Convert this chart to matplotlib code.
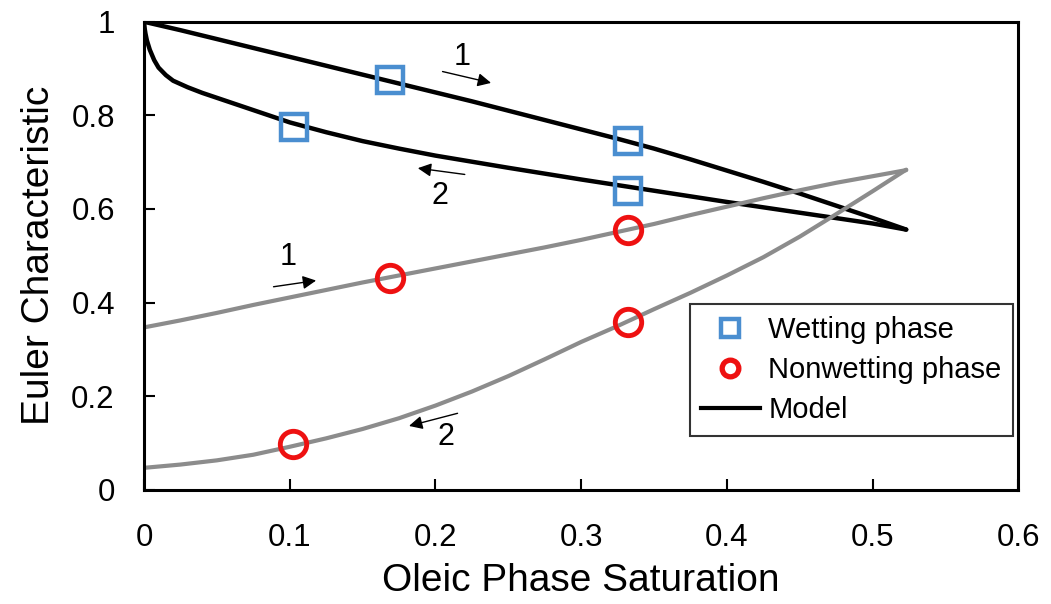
import matplotlib
matplotlib.use("Agg")
import matplotlib.pyplot as plt
from matplotlib.lines import Line2D

plt.rcParams['font.family'] = ['Liberation Sans', 'DejaVu Sans']

# Model curves (Euler characteristic vs. oleic phase saturation)
model_up_x = [0.0, 0.025, 0.05, 0.075, 0.1, 0.125, 0.15, 0.175, 0.2, 0.225, 0.25,
              0.275, 0.3, 0.325, 0.35, 0.375, 0.4, 0.425, 0.45, 0.475, 0.5, 0.523]
model_up_y = [1.0, 0.982, 0.963, 0.944, 0.925, 0.906, 0.887, 0.868, 0.849, 0.830, 0.810,
              0.790, 0.770, 0.750, 0.729, 0.706, 0.682, 0.658, 0.633, 0.607, 0.581, 0.556]

model_down_x = [0.0, 0.0005, 0.001, 0.002, 0.004, 0.007, 0.01, 0.015, 0.02, 0.03, 0.04,
                0.06, 0.08, 0.1, 0.125, 0.15, 0.175, 0.2, 0.25, 0.3, 0.35, 0.4, 0.45, 0.5, 0.523]
model_down_y = [1.0, 0.985, 0.975, 0.960, 0.940, 0.918, 0.902, 0.886, 0.874, 0.860, 0.848,
                0.827, 0.806, 0.785, 0.764, 0.745, 0.729, 0.714, 0.688, 0.663, 0.639, 0.615,
                0.592, 0.569, 0.556]

# Nonwetting-phase trend curves
nw_up_x = [0.0, 0.025, 0.05, 0.075, 0.1, 0.125, 0.15, 0.175, 0.2, 0.225, 0.25,
           0.275, 0.3, 0.325, 0.35, 0.375, 0.4, 0.425, 0.45, 0.475, 0.5, 0.523]
nw_up_y = [0.347, 0.362, 0.378, 0.395, 0.411, 0.427, 0.443, 0.458, 0.473, 0.488, 0.503,
           0.518, 0.534, 0.551, 0.568, 0.587, 0.605, 0.623, 0.640, 0.656, 0.670, 0.683]

nw_down_x = [0.0, 0.025, 0.05, 0.075, 0.1, 0.125, 0.15, 0.175, 0.2, 0.225, 0.25,
             0.275, 0.3, 0.325, 0.35, 0.375, 0.4, 0.425, 0.45, 0.475, 0.5, 0.523]
nw_down_y = [0.047, 0.054, 0.063, 0.075, 0.092, 0.110, 0.130, 0.153, 0.180, 0.210, 0.243,
             0.279, 0.316, 0.350, 0.386, 0.421, 0.458, 0.497, 0.541, 0.589, 0.638, 0.684]

# Measured points
wet_x = [0.103, 0.169, 0.332, 0.332]
wet_y = [0.776, 0.876, 0.746, 0.639]
nonwet_x = [0.102, 0.169, 0.332, 0.332]
nonwet_y = [0.098, 0.453, 0.556, 0.359]

x_ticks = [0, 0.1, 0.2, 0.3, 0.4, 0.5, 0.6]
x_tick_labels = ['0', '0.1', '0.2', '0.3', '0.4', '0.5', '0.6']
y_ticks = [0, 0.2, 0.4, 0.6, 0.8, 1.0]
y_tick_labels = ['0', '0.2', '0.4', '0.6', '0.8', '1']

fig = plt.figure(figsize=(10.51, 6.04), dpi=100)
ax = fig.add_axes([0.137, 0.189, 0.832, 0.775])

gray = '#8c8c8c'
ax.plot(model_up_x, model_up_y, color='black', lw=3.2, solid_capstyle='round',
        solid_joinstyle='round', zorder=2)
ax.plot(model_down_x, model_down_y, color='black', lw=3.2, solid_capstyle='round',
        solid_joinstyle='round', zorder=2)
ax.plot(nw_up_x, nw_up_y, color=gray, lw=3.0, solid_capstyle='round',
        solid_joinstyle='round', zorder=2)
ax.plot(nw_down_x, nw_down_y, color=gray, lw=3.0, solid_capstyle='round',
        solid_joinstyle='round', zorder=2)

ax.plot(wet_x, wet_y, ls='none', marker='s', ms=19, mfc='none', mec='#4a8ed0', mew=3.2, zorder=3)
ax.plot(nonwet_x, nonwet_y, ls='none', marker='o', ms=19, mfc='none', mec='#ee1111', mew=3.5, zorder=3)

# Direction arrows and branch numbers
arrow_kw = dict(arrowstyle='-|>', color='black', lw=1.0, mutation_scale=20)
def arrow(x0, y0, x1, y1):
    ax.annotate('', xy=(x1, y1), xytext=(x0, y0), arrowprops=arrow_kw)

arrow(0.203, 0.895, 0.240, 0.868)
ax.text(0.218, 0.925, '1', fontsize=22, ha='center', va='center')
arrow(0.222, 0.673, 0.186, 0.688)
ax.text(0.203, 0.628, '2', fontsize=22, ha='center', va='center')
arrow(0.087, 0.433, 0.120, 0.448)
ax.text(0.099, 0.498, '1', fontsize=22, ha='center', va='center')
arrow(0.217, 0.165, 0.180, 0.135)
ax.text(0.207, 0.113, '2', fontsize=22, ha='center', va='center')

ax.set_xlim(0, 0.6)
ax.set_ylim(0, 1)
ax.set_xticks(x_ticks)
ax.set_xticklabels(x_tick_labels)
ax.set_yticks(y_ticks)
ax.set_yticklabels(y_tick_labels)
ax.tick_params(direction='in', length=8, width=1.5, labelsize=22.5)
ax.tick_params(axis='x', pad=24)
ax.tick_params(axis='y', pad=21)
for s in ax.spines.values():
    s.set_linewidth(2.2)

ax.set_xlabel('Oleic Phase Saturation', fontsize=28, labelpad=7)
ax.set_ylabel('Euler Characteristic', fontsize=28, labelpad=10)

handles = [
    Line2D([], [], ls='none', marker='s', ms=13, mfc='none', mec='#4a8ed0', mew=3.2),
    Line2D([], [], ls='none', marker='o', ms=12, mfc='none', mec='#ee1111', mew=3.8),
    Line2D([], [], color='black', lw=3),
]
leg = ax.legend(handles, ['Wetting phase', 'Nonwetting phase', 'Model'],
                loc='lower right', bbox_to_anchor=(0.994, 0.115), borderaxespad=0,
                fontsize=21, frameon=True, fancybox=False, edgecolor='black',
                handlelength=2.0, handletextpad=0.3, labelspacing=0.42,
                borderpad=0.4)
leg.get_frame().set_linewidth(1.5)

fig.savefig('out.png', dpi=100)
